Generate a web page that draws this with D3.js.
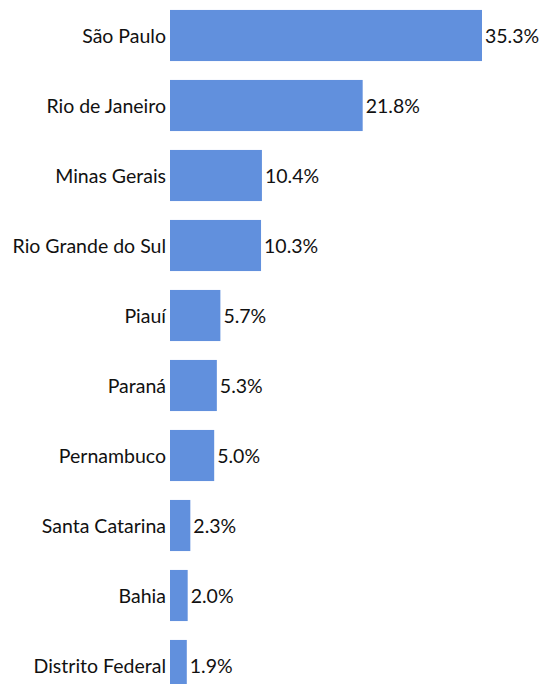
<!DOCTYPE html>
<html><head><meta charset="utf-8">
<script src="https://d3js.org/d3.v7.min.js"></script>
<style>body{margin:0;background:#fff}svg{display:block}</style>
</head><body>
<script>
const states = ["São Paulo","Rio de Janeiro","Minas Gerais","Rio Grande do Sul","Piauí","Paraná","Pernambuco","Santa Catarina","Bahia","Distrito Federal"];
const shares = [35.3,21.8,10.4,10.3,5.7,5.3,5.0,2.3,2.0,1.9];

const W = 542, H = 684;
const svg = d3.select("body").append("svg").attr("width", W).attr("height", H);
const x = d3.scaleLinear().domain([0, 35.3]).range([170, 482]);
const y = d3.scaleBand().domain(states).range([0.5, 700.5]).paddingInner(0.27).paddingOuter(0.135);

const g = svg.append("g");
g.selectAll("rect").data(states).join("rect")
  .attr("x", x(0)).attr("y", d => y(d))
  .attr("width", (d,i) => x(shares[i]) - x(0))
  .attr("height", y.bandwidth())
  .attr("fill", "#6190dd");

g.selectAll("text.lab").data(states).join("text").attr("class","lab")
  .attr("x", x(0) - 4).attr("y", d => y(d) + y.bandwidth()/2)
  .attr("dy", "0.38em").attr("text-anchor", "end")
  .attr("font-family", "Lato").attr("font-size", 19.5).attr("fill", "#111")
  .text(d => d);

g.selectAll("text.val").data(states).join("text").attr("class","val")
  .attr("x", (d,i) => x(shares[i]) + 3).attr("y", d => y(d) + y.bandwidth()/2)
  .attr("dy", "0.38em")
  .attr("font-family", "Lato").attr("font-size", 19.5).attr("fill", "#111")
  .text((d,i) => shares[i].toFixed(1) + "%");
</script>
</body></html>
